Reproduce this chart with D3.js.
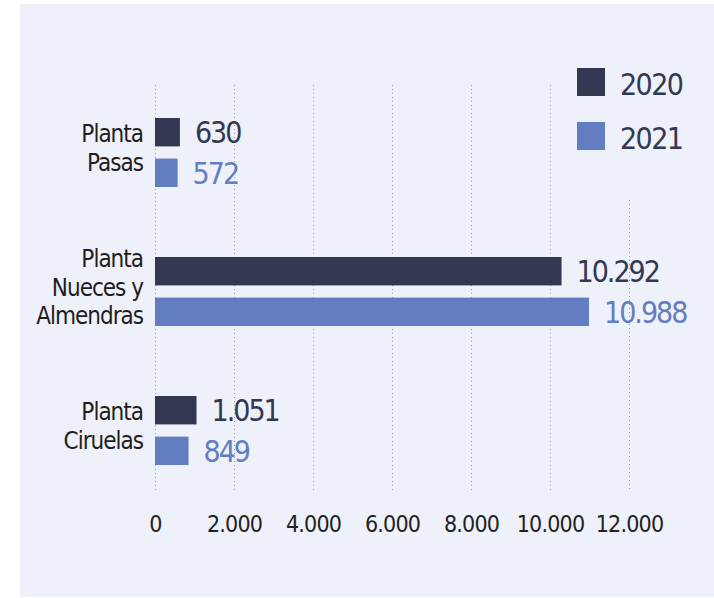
<!DOCTYPE html>
<html>
<head>
<meta charset="utf-8">
<script src="https://cdn.jsdelivr.net/npm/d3@7"></script>
<style>
  html, body { margin: 0; padding: 0; background: #ffffff; }
  svg { display: block; }
  text { font-family: "DejaVu Sans Condensed", "DejaVu Sans", sans-serif; }
</style>
</head>
<body>
<svg id="chart" width="714" height="598"></svg>
<script>
const categories = [["Planta", "Pasas"], ["Planta", "Nueces y", "Almendras"], ["Planta", "Ciruelas"]];
const categoryKeys = ["Planta Pasas", "Planta Nueces y Almendras", "Planta Ciruelas"];
const seriesNames = ["2020", "2021"];
const values2020 = [630, 10292, 1051];
const values2021 = [572, 10988, 849];
const tickValues = [0, 2000, 4000, 6000, 8000, 10000, 12000];
const valueLabels2020 = ["630", "10.292", "1.051"];
const valueLabels2021 = ["572", "10.988", "849"];
const colors = ["#333852", "#627dc1"];

const svg = d3.select("#chart");
svg.append("rect").attr("x", 20).attr("y", 4).attr("width", 694).attr("height", 593).attr("fill", "#eef1f9");

const x = d3.scaleLinear().domain([0, 12000]).range([155, 629]);
const y = d3.scaleBand().domain(categoryKeys).range([83, 500]).paddingInner(0).paddingOuter(0);
const sub = d3.scaleBand().domain(seriesNames).range([0, 69]).paddingInner(0.3);

// gridlines
const gridTop = v => v === 12000 ? 200 : 85;
svg.append("g").selectAll("line").data(tickValues).join("line")
  .attr("x1", d => Math.round(x(d)) + 0.5).attr("x2", d => Math.round(x(d)) + 0.5)
  .attr("y1", d => gridTop(d)).attr("y2", 491)
  .attr("stroke", "#9a9ea8").attr("stroke-width", 1).attr("stroke-dasharray", "1,3");

// axis labels
const axis = d3.axisBottom(x).tickValues(tickValues).tickSize(0).tickPadding(0)
  .tickFormat(d => d3.format(",")(d).replace(/,/g, "."));
const ag = svg.append("g").attr("transform", "translate(0,515)").call(axis);
ag.select(".domain").remove();
ag.selectAll("text").attr("font-size", 23).attr("fill", "#222222")
  .attr("dy", "0.75em").attr("letter-spacing", -0.8)
  .style("font-family", '"DejaVu Sans Condensed", "DejaVu Sans", sans-serif');

const series = [
  { name: "2020", vals: values2020, labels: valueLabels2020, color: colors[0], textColor: "#333852" },
  { name: "2021", vals: values2021, labels: valueLabels2021, color: colors[1], textColor: "#627dc1" }
];

const bandPad = (y.bandwidth() - 69) / 2;
series.forEach(s => {
  const g = svg.append("g");
  g.selectAll("rect").data(s.vals).join("rect")
    .attr("x", x(0))
    .attr("y", (d, i) => y(categoryKeys[i]) + bandPad + sub(s.name))
    .attr("width", d => x(d) - x(0))
    .attr("height", sub.bandwidth())
    .attr("fill", s.color);
  g.selectAll("text").data(s.vals).join("text")
    .attr("x", d => x(d) + 15)
    .attr("y", (d, i) => y(categoryKeys[i]) + bandPad + sub(s.name) + sub.bandwidth() / 2 + 11)
    .attr("font-size", 30).attr("letter-spacing", -2)
    .attr("fill", s.textColor)
    .text((d, i) => s.labels[i]);
});

// category labels
categories.forEach((lines, ci) => {
  const c = y(categoryKeys[ci]) + y.bandwidth() / 2;
  const n = lines.length;
  const t = svg.append("text").attr("text-anchor", "end").attr("font-size", 24)
    .attr("letter-spacing", -1).attr("fill", "#1e1e1e");
  lines.forEach((ln, i) => {
    t.append("tspan").attr("x", 143).attr("y", c + 4 + (i - (n - 1) / 2) * 28.5).text(ln);
  });
});

// legend
const legend = svg.append("g");
seriesNames.forEach((nm, i) => {
  legend.append("rect").attr("x", 577).attr("y", 68 + i * 54).attr("width", 28).attr("height", 28).attr("fill", colors[i]);
  legend.append("text").attr("x", 620).attr("y", 95 + i * 54).attr("font-size", 30)
    .attr("letter-spacing", -1.6).attr("fill", "#333852").text(nm);
});
</script>
</body>
</html>
